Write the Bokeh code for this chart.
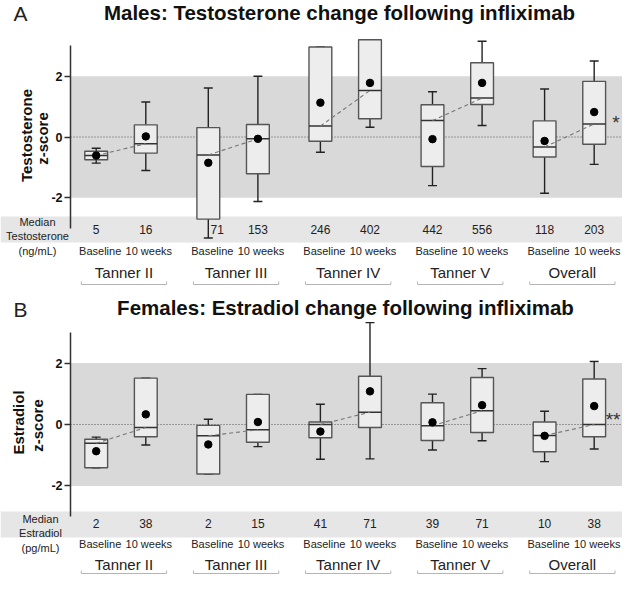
import numpy as np
from bokeh.plotting import figure
from bokeh.layouts import column
from bokeh.models import LinearAxis, FixedTicker, Range1d
from bokeh.core.properties import value
from bokeh.embed import file_html
from bokeh.resources import INLINE

FONT = "Liberation Sans"

groups = ["Tanner II", "Tanner III", "Tanner IV", "Tanner V", "Overall"]
timepoints = ["Baseline", "10 weeks"]
normal_range = [-2, 2]
axis_ticks = [-2, 0, 2]

# ---- Males: testosterone z-score ----
m_base_wlo = [-0.86, -3.32, -0.50, -1.60, -1.85]
m_base_q1 = [-0.75, -2.70, -0.14, -0.97, -0.66]
m_base_med = [-0.61, -0.59, 0.36, 0.54, -0.33]
m_base_q3 = [-0.47, 0.31, 2.96, 1.06, 0.53]
m_base_whi = [-0.37, 1.61, 2.96, 1.49, 1.58]
m_base_mean = [-0.61, -0.85, 1.13, -0.07, -0.13]

m_10w_wlo = [-1.10, -2.12, 0.32, 0.38, -0.90]
m_10w_q1 = [-0.53, -1.21, 0.60, 1.07, -0.24]
m_10w_med = [-0.22, -0.06, 1.53, 1.28, 0.43]
m_10w_q3 = [0.40, 0.41, 3.20, 2.44, 1.83]
m_10w_whi = [1.15, 2.00, 3.20, 3.15, 2.50]
m_10w_mean = [0.02, -0.06, 1.78, 1.78, 0.82]

m_base_median_ng = ["5", "71", "246", "442", "118"]
m_10w_median_ng = ["16", "153", "402", "556", "203"]
m_signif = "*"

# ---- Females: estradiol z-score ----
f_base_wlo = [-1.41, -1.61, -1.13, -0.83, -1.21]
f_base_q1 = [-1.41, -1.61, -0.43, -0.52, -0.89]
f_base_med = [-0.61, -0.37, 0.00, -0.04, -0.36]
f_base_q3 = [-0.48, -0.03, 0.08, 0.71, 0.08]
f_base_whi = [-0.41, 0.17, 0.66, 0.99, 0.43]
f_base_mean = [-0.87, -0.65, -0.23, 0.07, -0.37]

f_10w_wlo = [-0.67, -0.72, -1.12, -0.53, -0.80]
f_10w_q1 = [-0.40, -0.58, -0.10, -0.26, -0.40]
f_10w_med = [-0.10, -0.17, 0.40, 0.45, 0.00]
f_10w_q3 = [1.51, 0.98, 1.57, 1.53, 1.48]
f_10w_whi = [1.51, 0.98, 3.32, 1.82, 2.05]
f_10w_mean = [0.33, 0.08, 1.08, 0.63, 0.60]

f_base_median_pg = ["2", "2", "41", "39", "10"]
f_10w_median_pg = ["38", "15", "71", "71", "38"]
f_signif = "**"

W = 622
PXU = 49.6       # pixels per x unit
GSTEP = 2.26     # group spacing in x units
BOXW = 0.46
CAPW = 0.18


def xd(X):
    return (X - 95.7) / PXU


def make_panel(cfg):
    zero, unit, Ytop, H = cfg["zero"], cfg["unit"], cfg["Ytop"], cfg["H"]

    def zy(Y):
        return (zero - Y) / unit

    p = figure(width=W, height=H, x_range=Range1d(xd(0), xd(W)),
               y_range=Range1d(zy(Ytop + H), zy(Ytop)),
               output_backend="svg", toolbar_location=None,
               x_axis_location=None, y_axis_location=None, min_border=0,
               outline_line_color=None, background_fill_color="white",
               border_fill_color="white")
    p.xgrid.visible = False
    p.ygrid.visible = False

    n = len(groups)
    bx = np.array([GSTEP * i for i in range(n)])
    tx = bx + 1.0

    # strip for median concentrations
    p.quad(left=[xd(0)], right=[xd(W)], bottom=[zy(cfg["strip"][1])],
           top=[zy(cfg["strip"][0])], fill_color="#e6e6e6", line_color=None)
    # normal range band
    p.quad(left=[xd(70)], right=[xd(W)], bottom=[normal_range[0]],
           top=[normal_range[1]], fill_color="#d9d9d9", line_color=None)
    p.segment(x0=[xd(70)], x1=[xd(W)], y0=[0], y1=[0], line_color="#555555",
              line_width=1, line_dash="1 2")

    for xs, st in ((bx, cfg["base"]), (tx, cfg["tenw"])):
        wlo, q1, med, q3, whi, mean = st
        p.segment(x0=xs, x1=xs, y0=q3, y1=whi, line_color="#222222", line_width=1.4)
        p.segment(x0=xs, x1=xs, y0=q1, y1=wlo, line_color="#222222", line_width=1.4)
        p.segment(x0=xs - CAPW / 2, x1=xs + CAPW / 2, y0=whi, y1=whi,
                  line_color="#222222", line_width=1.4)
        p.segment(x0=xs - CAPW / 2, x1=xs + CAPW / 2, y0=wlo, y1=wlo,
                  line_color="#222222", line_width=1.4)
        p.quad(left=xs - BOXW / 2, right=xs + BOXW / 2, bottom=q1, top=q3,
               fill_color="#ededed", line_color="#555555", line_width=1.4)
        p.segment(x0=xs - BOXW / 2, x1=xs + BOXW / 2, y0=med, y1=med,
                  line_color="#333333", line_width=1.5)

    p.segment(x0=bx, x1=tx, y0=cfg["base"][2], y1=cfg["tenw"][2],
              line_color="#777777", line_width=1.1, line_dash="4 3")
    for xs, st in ((bx, cfg["base"]), (tx, cfg["tenw"])):
        p.scatter(x=xs, y=st[5], size=7.5, fill_color="black", line_color="black")

    # y axis
    ax = LinearAxis(fixed_location=xd(70), bounds=(-3, 3),
                    ticker=FixedTicker(ticks=axis_ticks),
                    major_label_overrides={t: str(t) for t in axis_ticks})
    ax.axis_line_color = "#333333"
    ax.axis_line_width = 1.5
    ax.major_tick_line_color = "#333333"
    ax.major_tick_line_width = 1.5
    ax.major_tick_in = 0
    ax.major_tick_out = 6
    ax.minor_tick_line_color = None
    ax.major_label_standoff = 2
    ax.major_label_text_font = FONT
    ax.major_label_text_font_style = "bold"
    ax.major_label_text_font_size = "12.5px"
    ax.major_label_text_color = "#111111"
    p.add_layout(ax, "left")

    # y axis title (two lines)
    p.text(x=[xd(cfg["ylab_x"][0]), xd(cfg["ylab_x"][1])],
           y=[zy(cfg["ylab_y"][0]), zy(cfg["ylab_y"][1])],
           text=[cfg["ylab"][0], cfg["ylab"][1]], angle=np.pi / 2,
           text_font=value(FONT), text_font_style="bold", text_font_size="15px",
           text_align="center", text_baseline="middle", text_color="#111111")

    # title and panel letter
    p.text(x=[xd(cfg["title_x"])], y=[zy(cfg["title_y"])], text=[cfg["title"]],
           text_font=value(FONT), text_font_style="bold", text_font_size="20.5px",
           text_align="center", text_baseline="middle", text_color="#111111")
    p.text(x=[xd(13)], y=[zy(cfg["letter_y"])], text=[cfg["letter"]],
           text_font=value(FONT), text_font_size="21px",
           text_align="left", text_baseline="middle", text_color="#222222")

    # median concentration row
    strip_top = zy(cfg["strip"][0])
    for xs, labs, st in ((bx, cfg["base_lab"], cfg["base"]), (tx, cfg["tenw_lab"], cfg["tenw"])):
        offs = [9 if w < strip_top else 0 for w in st[0]]
        p.text(x=xs, y=[zy(cfg["num_y"])] * n, text=labs, x_offset=offs,
               text_font=value(FONT), text_font_size="12px", text_align="center",
               text_baseline="middle", text_color="#222222")
    p.text(x=[xd(cfg["left_x"])] * 3, y=[zy(v) for v in cfg["left_y"]],
           text=cfg["left_lab"], text_font=value(FONT), text_font_size="11px",
           text_align="center", text_baseline="middle", text_color="#222222")

    # time point labels
    p.text(x=bx, y=[zy(cfg["tp_y"])] * n, text=[timepoints[0]] * n, x_offset=4,
           text_font=value(FONT), text_font_size="11px", text_align="center",
           text_baseline="middle", text_color="#222222")
    p.text(x=tx, y=[zy(cfg["tp_y"])] * n, text=[timepoints[1]] * n, x_offset=3,
           text_font=value(FONT), text_font_size="11px", text_align="center",
           text_baseline="middle", text_color="#222222")

    # group labels and brackets
    gc = bx + 0.5 + 0.06
    p.text(x=gc, y=[zy(cfg["grp_y"])] * n, text=groups,
           text_font=value(FONT), text_font_size="15px", text_align="center",
           text_baseline="middle", text_color="#222222")
    by, bu = zy(cfg["br_y"]), zy(cfg["br_y"] - 3)
    p.segment(x0=gc - 0.86, x1=gc + 0.86, y0=[by] * n, y1=[by] * n,
              line_color="#b5b5b5", line_width=1)
    p.segment(x0=gc - 0.86, x1=gc - 0.86, y0=[by] * n, y1=[bu] * n,
              line_color="#b5b5b5", line_width=1)
    p.segment(x0=gc + 0.86, x1=gc + 0.86, y0=[by] * n, y1=[bu] * n,
              line_color="#b5b5b5", line_width=1)

    # significance marker
    p.text(x=[tx[-1] + cfg["sig_dx"]], y=[zy(cfg["sig_y"])], text=[cfg["sig"]],
           text_font=value(FONT), text_font_size="19px", text_align="center",
           text_baseline="middle", text_color="#333333")
    return p


top_cfg = dict(zero=136.5, unit=30.4, Ytop=0, H=287, strip=(216, 242),
               base=(m_base_wlo, m_base_q1, m_base_med, m_base_q3, m_base_whi, m_base_mean),
               tenw=(m_10w_wlo, m_10w_q1, m_10w_med, m_10w_q3, m_10w_whi, m_10w_mean),
               base_lab=m_base_median_ng, tenw_lab=m_10w_median_ng,
               ylab=("Testosterone", "z-score"), ylab_x=(26, 42), ylab_y=(135, 138),
               title="Males: Testosterone change following infliximab", title_x=339, title_y=12,
               letter="A", letter_y=13, num_y=229,
               left_x=37, left_y=(221, 235, 250), left_lab=["Median", "Testosterone", "(ng/mL)"],
               tp_y=250, grp_y=272, br_y=284, sig=m_signif, sig_dx=0.44, sig_y=122)

bot_cfg = dict(zero=434, unit=30.7, Ytop=297, H=288, strip=(521, 547),
               base=(f_base_wlo, f_base_q1, f_base_med, f_base_q3, f_base_whi, f_base_mean),
               tenw=(f_10w_wlo, f_10w_q1, f_10w_med, f_10w_q3, f_10w_whi, f_10w_mean),
               base_lab=f_base_median_pg, tenw_lab=f_10w_median_pg,
               ylab=("Estradiol", "z-score"), ylab_x=(18, 37), ylab_y=(432, 435),
               title="Females: Estradiol change following infliximab", title_x=345, title_y=317,
               letter="B", letter_y=319, num_y=533,
               left_x=40, left_y=(528, 542, 557), left_lab=["Median", "Estradiol", "(pg/mL)"],
               tp_y=553, grp_y=574, br_y=583, sig=f_signif, sig_dx=0.38, sig_y=429)

p1 = make_panel(top_cfg)
p2 = make_panel(bot_cfg)
layout = column(p1, p2, spacing=0)

open("out.html", "w").write(file_html(layout, INLINE))
